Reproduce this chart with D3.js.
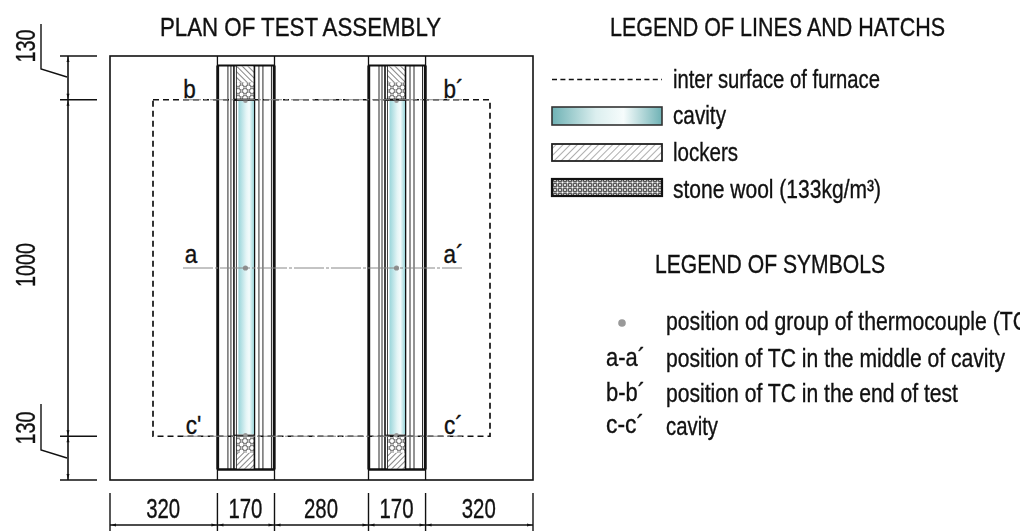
<!DOCTYPE html>
<html><head><meta charset="utf-8">
<script src="https://cdn.jsdelivr.net/npm/d3@7"></script>
<style>html,body{margin:0;background:#fff}svg{display:block;filter:blur(.35px)}text{font-family:"Liberation Sans",Arial,sans-serif;fill:#111;stroke:#111;stroke-width:.35px}</style>
</head><body><div id="c"></div>
<script>
const widthSpans=[320,170,280,170,320];
const edgeHeights=[130,1000,130];
const sectionLabels=[["b","b´"],["a","a´"],["c'","c´"]];
const lineLegend=["inter surface of furnace","cavity","lockers","stone wool (133kg/m³)"];
const symbolKeys=["","a-a´","b-b´","c-c´"];
const symbolTexts=["position od group of thermocouple (TC","position of TC in the middle of cavity","position of TC in the end of test","cavity"];
const titles=["PLAN OF TEST ASSEMBLY","LEGEND OF LINES AND HATCHS","LEGEND OF SYMBOLS"];

const W=1030,H=531;
const svg=d3.select("#c").append("svg").attr("width",W).attr("height",H);
const totalW=d3.sum(widthSpans),totalH=d3.sum(edgeHeights);
const x=d3.scaleLinear().domain([0,totalW]).range([110,533]);
const y=d3.scaleLinear().domain([0,totalH]).range([56,480]);
const xEdges=d3.cumsum([0,...widthSpans]);
const yEdges=d3.cumsum([0,...edgeHeights]);
const defs=svg.append("defs");
const grad=defs.append("linearGradient").attr("id","cav");
[[0,"#6fb2b5"],[.4,"#dcefef"],[.65,"#f6fcfc"],[1,"#6fb2b5"]].forEach(d=>grad.append("stop").attr("offset",d[0]).attr("stop-color",d[1]));
const gradV=defs.append("linearGradient").attr("id","cavV");
[[0,"#9ad5da"],[.5,"#e4f5f6"],[.7,"#f4fcfc"],[1,"#9ad5da"]].forEach(d=>gradV.append("stop").attr("offset",d[0]).attr("stop-color",d[1]));
function hatchPat(id,size,rot,c,sw){
  const p=defs.append("pattern").attr("id",id).attr("width",size).attr("height",size).attr("patternUnits","userSpaceOnUse").attr("patternTransform",`rotate(${rot})`);
  p.append("rect").attr("width",size).attr("height",size).attr("fill","#fff");
  p.append("line").attr("x1",0).attr("x2",0).attr("y1",0).attr("y2",size).attr("stroke",c).attr("stroke-width",sw);
}
hatchPat("hatch",5,45,"#777",1.2);
hatchPat("hatchD",4,-45,"#444",1.3);
hatchPat("hatchU",4,45,"#444",1.3);
function woolPat(id,w,h,r,c,sw){
  const p=defs.append("pattern").attr("id",id).attr("width",w).attr("height",h).attr("patternUnits","userSpaceOnUse");
  p.append("rect").attr("width",w).attr("height",h).attr("fill","#fff");
  [[0,0],[w,0],[w/2,h/2],[0,h],[w,h]].forEach(q=>p.append("circle").attr("cx",q[0]).attr("cy",q[1]).attr("r",r).attr("fill","#fff").attr("stroke",c).attr("stroke-width",sw));
}
woolPat("wool",7,7,2.5,"#666",.9);
woolPat("woolL",5,5,1.55,"#333",.9);
defs.append("clipPath").attr("id","clip").append("rect").attr("x",0).attr("y",0).attr("width",1020).attr("height",H);

const line=(p,sw=1.6,c="#111",dash=null)=>svg.append("path").attr("d",d3.line()(p)).attr("fill","none").attr("stroke",c).attr("stroke-width",sw).attr("stroke-dasharray",dash);
const text=(s,tx,ty,size,opt={})=>{const t=svg.append("text").attr("x",tx).attr("y",ty).attr("font-size",size).attr("text-anchor",opt.anchor||"start").text(s);if(opt.len)t.attr("textLength",opt.len).attr("lengthAdjust","spacingAndGlyphs");return t;};

// assembly outline
svg.append("rect").attr("x",x(0)).attr("y",y(0)).attr("width",x(totalW)-x(0)).attr("height",y(totalH)-y(0)).attr("fill","#fff").attr("stroke","#111").attr("stroke-width",1.6);

// columns
[xEdges[1],xEdges[3]].forEach(start=>{
  const px=d=>x(start)+d, L=x(start),R=x(start+170),top=y(0),bot=y(totalH);
  const yB=y(130),yC=y(1130),inTop=top+9.5,inBot=bot-10.5;
  line([[L,top],[L,bot]],1.3);line([[R,top],[R,bot]],1.3);
  line([[L,inTop],[R,inTop]],2);
  line([[L,inBot],[R,inBot]],2.4);
  line([[L+.3,inTop],[L+.3,inBot]],2.8);line([[R-.3,inTop],[R-.3,inBot]],2.8);
  [10.5,13.5,41.5,45.5,54].forEach(d=>line([[px(d),inTop],[px(d),inBot]],.9));
  const mid=[px(19),18];
  svg.append("rect").attr("x",mid[0]).attr("y",inTop+1).attr("width",mid[1]).attr("height",16).attr("fill","url(#hatchD)");
  svg.append("rect").attr("x",mid[0]).attr("y",inBot-17).attr("width",mid[1]).attr("height",16).attr("fill","url(#hatchU)");
  svg.append("rect").attr("x",mid[0]).attr("y",inTop+17).attr("width",mid[1]).attr("height",yB-inTop-17).attr("fill","url(#wool)");
  svg.append("rect").attr("x",mid[0]).attr("y",yC-1).attr("width",mid[1]).attr("height",inBot-17-yC+1).attr("fill","url(#wool)");
  line([[px(16.5),inTop],[px(16.5),inBot]],1.6);
  line([[px(19),inTop],[px(19),inBot]],.8);
  line([[px(37),inTop],[px(37),inBot]],1.6);
  svg.append("rect").attr("x",px(21)).attr("y",yB+1).attr("width",15.5).attr("height",yC-yB-3).attr("fill","url(#cavV)");
  line([[px(16.5),yB],[px(37),yB]],2.2);
  line([[px(16.5),yC-1],[px(37),yC-1]],1.2);
  svg.append("circle").attr("cx",px(28)).attr("cy",yB+1).attr("r",2.3).attr("fill","#999");
  svg.append("circle").attr("cx",px(28)).attr("cy",yC-1).attr("r",2.3).attr("fill","#999");
  svg.append("circle").attr("cx",px(28)).attr("cy",y(630)).attr("r",2.6).attr("fill","#8f8f8f");
});

// furnace outline + section lines
const sectionY=[y(130),y(630),y(1130)];
svg.append("rect").attr("x",153).attr("y",y(130)).attr("width",337).attr("height",y(1130)-y(130)).attr("fill","none").attr("stroke","#111").attr("stroke-width",1.7).attr("stroke-dasharray","6 4");
sectionY.forEach((sy,i)=>line([[183,sy],[462,sy]],1,"#888",i==1?"30 2 3 2":"18 3 3 3"));
const labelX=[[189.5,453.5],[191,453.5],[193.5,453.5]],labelB=[98,263,434];
sectionLabels.forEach((p,i)=>{
  text(p[0],labelX[i][0],labelB[i],25,{anchor:"middle"}).attr("transform",`translate(${labelX[i][0]*.1},0) scale(.9,1)`);
  text(p[1],labelX[i][1],labelB[i],25,{anchor:"middle"}).attr("transform",`translate(${labelX[i][1]*.1},0) scale(.9,1)`);
});

// bottom dims
const dimY=525;
line([[x(0),dimY],[x(totalW),dimY]],1.6);
xEdges.forEach(e=>line([[x(e),493],[x(e),H]],1.4));
widthSpans.forEach((v,i)=>{
  const mid=(x(xEdges[i])+x(xEdges[i+1]))/2;
  text(v,mid-.5,518,27,{anchor:"middle",len:34});
  [[x(xEdges[i])+1,1],[x(xEdges[i+1])-1,-1]].forEach(a=>svg.append("path").attr("d",`M${a[0]},${dimY}l${a[1]*5},-1.5v3z`).attr("fill","#111"));
});

// left dims
const dimX=68;
line([[dimX,y(0)],[dimX,y(totalH)]],1.6);
yEdges.forEach(e=>line([[60,y(e)],[97,y(e)]],1.4));
yEdges.slice(0,-1).forEach((e,i)=>{
  [[y(e)+1,1],[y(yEdges[i+1])-1,-1]].forEach(a=>svg.append("path").attr("d",`M${dimX},${a[0]}l-1.5,${a[1]*5}h3z`).attr("fill","#111"));
});
const vtext=(s,cy,len)=>text(s,0,0,27,{anchor:"middle",len}).attr("transform",`translate(35,${cy}) rotate(-90)`);
vtext(edgeHeights[0],46,33);
vtext(edgeHeights[1],265,44);
vtext(edgeHeights[2],428,33);
line([[41,24],[41,69],[67,77]],1.4);
line([[41,404],[41,450],[67,458]],1.4);

// titles
text(titles[0],160,36,25,{len:281});
text(titles[1],610,36,25,{len:335});
text(titles[2],655,273,25,{len:230});

// legend of lines
const lx=552,lw=110;
line([[lx,79.5],[lx+lw,79.5]],1.4,"#111","5 3.4");
svg.append("rect").attr("x",lx).attr("y",107).attr("width",lw).attr("height",18).attr("fill","url(#cav)").attr("stroke","#333").attr("stroke-width",1.6);
svg.append("rect").attr("x",lx).attr("y",144).attr("width",lw).attr("height",17).attr("fill","url(#hatch)").attr("stroke","#222").attr("stroke-width",1.8);
svg.append("rect").attr("x",lx).attr("y",179).attr("width",lw).attr("height",17).attr("fill","url(#woolL)").attr("stroke","#111").attr("stroke-width",2.2);
const legY=[88,124,161,198],legLen=[207,53,65,208];
lineLegend.forEach((s,i)=>text(s,673,legY[i],25,{len:legLen[i]}));

// legend of symbols
svg.append("circle").attr("cx",622).attr("cy",323).attr("r",3.8).attr("fill","#999");
const symY=[330,367,402,435],symLen=[362,339,292,52],keyLen=[0,39,39,38],keyY=[0,366,401,433];
symbolTexts.forEach((s,i)=>{
  const t=text(s,666,symY[i],25,{len:symLen[i]});
  if(i===0)t.attr("clip-path","url(#clip)");
  if(symbolKeys[i])text(symbolKeys[i],606,keyY[i],25,{len:keyLen[i]});
});
</script></body></html>
